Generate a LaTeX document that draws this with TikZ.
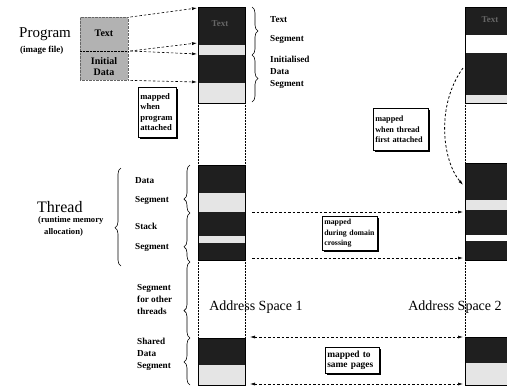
\documentclass[tikz,border=0pt]{standalone}
\usepackage{fontspec}
\setmainfont{Liberation Serif}
\usetikzlibrary{arrows.meta,positioning,calc,decorations.pathreplacing,shadows}

\begin{document}
\begin{tikzpicture}[x=1pt,y=-1pt,
  every node/.style={inner sep=0pt},
  darkband/.style={fill=black!88},
  lightband/.style={fill=black!10},
  whiteband/.style={fill=white},
  colline/.style={line width=.7pt},
  dotline/.style={densely dotted,line width=.5pt},
  brc/.style={decorate,decoration={brace,amplitude=6pt,aspect=#1},line width=.6pt},
  brc/.default=0.5,
  lbl/.style={align=left,font=\fontsize{9.2}{12}\selectfont\bfseries},
  note/.style={draw,line width=.6pt,fill=white,align=left,inner xsep=2pt,inner ysep=3pt,
    font=\fontsize{#1}{10.5}\selectfont\bfseries,
    drop shadow={shadow xshift=1.2pt,shadow yshift=-1.2pt,fill=black,opacity=1}},
  note/.default=8,
  map/.style={dash pattern=on 2.5pt off 2pt,line width=.6pt,-{Latex[length=5pt,width=3pt]}},
  mapboth/.style={map,{Latex[length=5pt,width=3pt]}-{Latex[length=5pt,width=3pt]}},
]
\useasboundingbox (0,0) rectangle (507,386);

% address space 1
\foreach \ya/\yb/\sty in {7/45/darkband,45/55/lightband,55/83/darkband,83/103/lightband,
    165/193/darkband,193/212/lightband,212/236/darkband,236/243/lightband,243/260/darkband,
    338/365/darkband,365/385/lightband}
  \fill[\sty] (198,\ya) rectangle (245,\yb);
\draw[colline] (198,7) rectangle (245,103);
\draw[colline] (198,165) rectangle (245,260);
\draw[colline] (198,338) rectangle (245,385);
\draw[dotline] (198,103) -- (198,165) (245,103) -- (245,165)
  (198,260) -- (198,338) (245,260) -- (245,338);
\node[font=\fontsize{9}{10}\selectfont\bfseries,text=black!60] (tx1) at (220,24) {Text};

% address space 2
\foreach \ya/\yb/\sty in {7/35/darkband,35/53/whiteband,53/95/darkband,95/103/lightband,
    163/200/darkband,200/210/lightband,210/235/darkband,235/241/whiteband,241/260/darkband,
    337/363/darkband,363/385/lightband}
  \fill[\sty] (465,\ya) rectangle (512,\yb);
\draw[colline] (512,7) -- (465,7) -- (465,103) -- (512,103);
\draw[colline] (512,163) -- (465,163) -- (465,260) -- (512,260);
\draw[colline] (512,337) -- (465,337) -- (465,385) -- (512,385);
\draw[dotline] (465,103) -- (465,163) (465,260) -- (465,337);
\node[font=\fontsize{9}{10}\selectfont\bfseries,text=black!60] (tx2) at (490,20) {Text};

% program image
\node[anchor=west,font=\fontsize{15}{17}\selectfont] (prog) at (19,34) {Program};
\node[anchor=west,font=\fontsize{9}{11}\selectfont\bfseries] (progsub) at (20,50) {(image file)};
\node[draw=black!60,densely dotted,fill=black!30,anchor=north west,
  minimum width=48pt,minimum height=63pt] (img) at (80,17) {};
\coordinate (imgmid) at (104,51);
\draw[densely dotted] (img.west |- imgmid) -- (img.east |- imgmid);
\node[font=\fontsize{10}{11}\selectfont\bfseries] (imgtext) at (104,33) {Text};
\node[align=center,font=\fontsize{10}{11}\selectfont\bfseries] (imgdata) at (104,67) {Initial\\Data};

\coordinate (i1) at ([xshift=2pt]img.north east);
\coordinate (i2) at ([xshift=2pt]img.east |- imgmid);
\coordinate (i3) at ([xshift=2pt]img.south east);
\coordinate (c1a) at (197,8);
\coordinate (c1b) at (197,43);
\coordinate (c1c) at (197,54);
\coordinate (c1d) at (197,82);
\draw[map] (i1) -- (c1a);
\draw[map] (i2) -- (c1b);
\draw[map] (i2) -- (c1c);
\draw[map] (i3) -- (c1d);

\node[note=8.6,anchor=north west,text width=34pt,minimum height=50pt] (n1) at (138,87)
  {mapped\\when\\program\\attached};

% segment braces
\draw[brc] (252,7) -- (252,55);
\draw[brc] (252,55) -- (252,102);
\node[lbl,anchor=west] (txtseg) at (270,30) {Text\\[7pt]Segment};
\node[lbl,anchor=west] (datseg) at (270,72) {Initialised\\Data\\Segment};

% thread
\node[anchor=west,font=\fontsize{16}{18}\selectfont] (thread) at (37,207) {Thread};
\node[anchor=north west,align=left,font=\fontsize{8.6}{12}\selectfont\bfseries] (threadsub) at (38,216)
  {(runtime memory\\\hspace*{6pt}allocation)};
\draw[brc=0.39] (121,266) -- (121,168);
\draw[brc=0.29] (190,213) -- (190,165);
\draw[brc=0.31] (190,262) -- (190,213);
\draw[brc=0.36] (190,338) -- (190,262);
\draw[brc=0.49] (190,385) -- (190,338);
\node[lbl,anchor=west] (thdata) at (135,191) {Data\\[6pt]Segment};
\node[lbl,anchor=west] (thstack) at (135,237) {Stack\\[8pt]Segment};
\node[lbl,anchor=west] (others) at (137,299) {Segment\\for other\\threads};
\node[lbl,anchor=west] (shared) at (137,354) {Shared\\Data\\Segment};

% mappings between the address spaces
\coordinate (t1) at (463,68);
\coordinate (t2) at (463,185);
\draw[map,line width=.8pt] (t1) .. controls (436,105) and (442,160) .. (t2);
\node[note=8.2,anchor=north west,text width=51pt,minimum height=42pt] (n2) at (373,108)
  {mapped\\when thread\\first attached};

\coordinate (d1) at (252,212);
\coordinate (d2) at (463,212);
\coordinate (d3) at (252,258);
\coordinate (d4) at (463,258);
\draw[map] (d1) -- (d2);
\draw[map] (d3) -- (d4);
\node[note=7.8,anchor=north west,text width=51pt,minimum height=31pt] (n3) at (322,216)
  {mapped\\during domain\\crossing};

\coordinate (s1) at (250,337);
\coordinate (s2) at (463,337);
\coordinate (s3) at (250,384);
\coordinate (s4) at (463,384);
\draw[mapboth] (s1) -- (s2);
\draw[mapboth] (s3) -- (s4);
\node[note=9.4,anchor=north west,text width=50pt,minimum height=26pt] (n4) at (325,347)
  {mapped to\\same pages};

\node[font=\fontsize{14}{16}\selectfont] (as1) at (256,307) {Address Space 1};
\node[font=\fontsize{14}{16}\selectfont] (as2) at (455,307) {Address Space 2};
\end{tikzpicture}
\end{document}
